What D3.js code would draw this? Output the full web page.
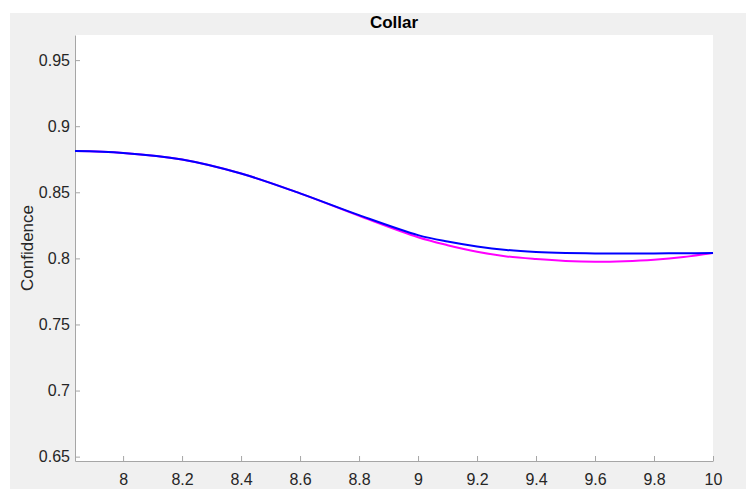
<!DOCTYPE html>
<html>
<head>
<meta charset="utf-8">
<script src="https://cdn.jsdelivr.net/npm/d3@7"></script>
<style>
  html, body { margin: 0; padding: 0; background: #ffffff; }
  svg { display: block; }
  text { font-family: "Liberation Sans", Arial, Helvetica, sans-serif; }
</style>
</head>
<body>
<svg id="chart" width="746" height="489"></svg>
<script>
// Sample positions along the collar parameter
const xValues = [7.837, 8.0, 8.2, 8.4, 8.6, 8.8, 9.0, 9.1, 9.2, 9.3, 9.4, 9.5, 9.6, 9.7, 9.8, 9.9, 10.0];
// Confidence of the two estimates
const magentaSeries = [0.8812, 0.8798, 0.8748, 0.8642, 0.8492, 0.8322, 0.8160, 0.8100, 0.8050, 0.8015, 0.7995, 0.7981, 0.7975, 0.7979, 0.7990, 0.8010, 0.8040];
const blueSeries    = [0.8812, 0.8798, 0.8748, 0.8642, 0.8492, 0.8327, 0.8176, 0.8127, 0.8090, 0.8064, 0.8049, 0.8041, 0.8037, 0.8036, 0.8037, 0.8039, 0.8040];
const xTicks = [8, 8.2, 8.4, 8.6, 8.8, 9, 9.2, 9.4, 9.6, 9.8, 10];
const yTicks = [0.65, 0.7, 0.75, 0.8, 0.85, 0.9, 0.95];
const titleText = "Collar";
const yLabelText = "Confidence";

const svg = d3.select("#chart");
const W = 746, H = 489;
const plot = { left: 75, top: 35, right: 713, bottom: 461 };

// Figure background
svg.append("rect").attr("x", 10).attr("y", 13).attr("width", W - 10).attr("height", H - 13).attr("fill", "#f0f0f0");
// Axes background
svg.append("rect").attr("x", plot.left).attr("y", plot.top)
  .attr("width", plot.right - plot.left).attr("height", plot.bottom - plot.top).attr("fill", "#ffffff");

const x = d3.scaleLinear().domain([7.837, 10]).range([plot.left, plot.right]);
const y = d3.scaleLinear().domain([0.6467, 0.969]).range([plot.bottom, plot.top]);

const fmt = d => String(+d.toFixed(2));

// Bottom axis with inward ticks
const xAxis = d3.axisBottom(x).tickValues(xTicks).tickFormat(fmt).tickSizeInner(-5).tickSizeOuter(0).tickPadding(13);
const gx = svg.append("g").attr("transform", `translate(0,${plot.bottom})`).call(xAxis);
// Left axis with inward ticks
const yAxis = d3.axisLeft(y).tickValues(yTicks).tickFormat(fmt).tickSizeInner(-5).tickSizeOuter(0).tickPadding(5);
const gy = svg.append("g").attr("transform", `translate(${plot.left},0)`).call(yAxis);

[gx, gy].forEach(g => {
  g.select(".domain").attr("stroke", "#a6a6a6").attr("stroke-width", 1);
  g.selectAll(".tick line").attr("stroke", "#a6a6a6");
  g.selectAll(".tick text").attr("fill", "#262626").style("font-size", "16px");
});

// Curves
const rowsM = xValues.map((v, i) => [v, magentaSeries[i]]);
const rowsB = xValues.map((v, i) => [v, blueSeries[i]]);
const line = d3.line().x(d => x(d[0])).y(d => y(d[1])).curve(d3.curveCatmullRom.alpha(0.5));

svg.append("path").datum(rowsM).attr("d", line)
  .attr("fill", "none").attr("stroke", "#ff00ff").attr("stroke-width", 2);
svg.append("path").datum(rowsB).attr("d", line)
  .attr("fill", "none").attr("stroke", "#0000ff").attr("stroke-width", 2);

// Title
svg.append("text").attr("x", (plot.left + plot.right) / 2).attr("y", 28)
  .attr("text-anchor", "middle").attr("fill", "#000000")
  .style("font-size", "17px").style("font-weight", "bold").text(titleText);

// Y axis label
svg.append("text").attr("transform", `translate(33,${(plot.top + plot.bottom) / 2}) rotate(-90)`)
  .attr("text-anchor", "middle").attr("fill", "#262626")
  .style("font-size", "17px").text(yLabelText);
</script>
</body>
</html>
